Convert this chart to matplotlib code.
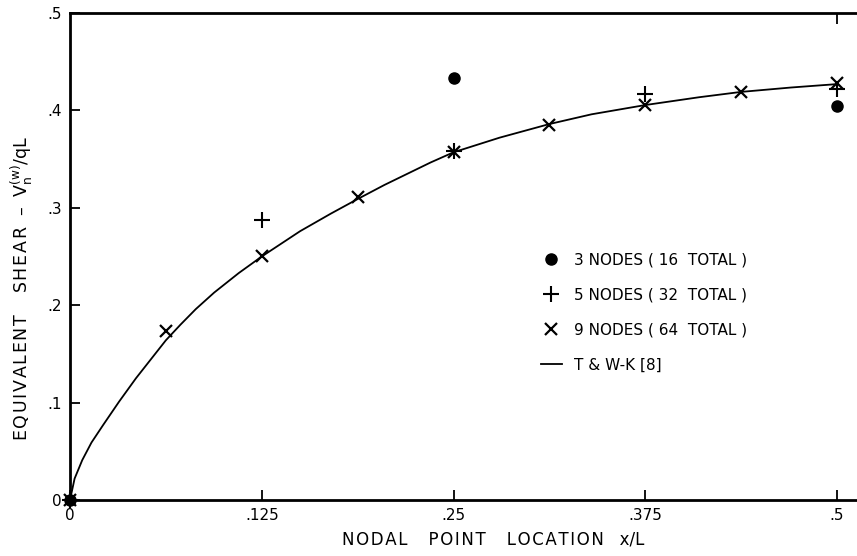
import matplotlib
matplotlib.use("Agg")
from matplotlib import pyplot as plt

# 3 nodes (16 total)
x3 = [0, 0.25, 0.5]
y3 = [0, 0.433, 0.405]
# 5 nodes (32 total)
x5 = [0, 0.125, 0.25, 0.375, 0.5]
y5 = [0, 0.2875, 0.358, 0.417, 0.422]
# 9 nodes (64 total)
x9 = [0, 0.0625, 0.125, 0.1875, 0.25, 0.3125, 0.375, 0.4375, 0.5]
y9 = [0, 0.1735, 0.2505, 0.311, 0.357, 0.385, 0.4055, 0.419, 0.428]
# T & W-K [8] curve
xc = [0, 0.003, 0.008, 0.014, 0.0216, 0.032, 0.043, 0.053, 0.0625, 0.072,
      0.082, 0.094, 0.11, 0.125, 0.15, 0.17, 0.1875, 0.205, 0.22, 0.235,
      0.25, 0.28, 0.3125, 0.34, 0.375, 0.41, 0.4375, 0.47, 0.5]
yc = [0, 0.022, 0.041, 0.059, 0.077, 0.101, 0.125, 0.145, 0.164, 0.180,
      0.196, 0.213, 0.233, 0.250, 0.276, 0.294, 0.309, 0.3235, 0.335, 0.3465,
      0.357, 0.372, 0.386, 0.396, 0.4055, 0.4135, 0.419, 0.4235, 0.427]

xticks = [0, 0.125, 0.25, 0.375, 0.5]
xlabels = ["0", ".125", ".25", ".375", ".5"]
yticks = [0, 0.1, 0.2, 0.3, 0.4, 0.5]
ylabels = ["0", ".1", ".2", ".3", ".4", ".5"]


def spaced(s):
    # wide lettering like the original
    return "\u200a".join(s)


plt.rcParams['font.family'] = ['DejaVu Sans']
fig = plt.figure(figsize=(8.57, 5.56), dpi=100)
ax = fig.add_axes([70/857, 56/556, 1 - 70/857, 487/556])

ax.plot(xc, yc, "k-", lw=1.3, label="T & W-K [8]", clip_on=False)
ax.plot(x3, y3, "ko", ms=8, ls="none", label="3 NODES ( 16  TOTAL )", clip_on=False)
ax.plot(x5, y5, "k+", ms=11, mew=1.5, ls="none", label="5 NODES ( 32  TOTAL )", clip_on=False)
ax.plot(x9, y9, "kx", ms=8.5, mew=1.6, ls="none", label="9 NODES ( 64  TOTAL )", clip_on=False)

ax.set_xlim(0, 0.513)
ax.set_ylim(0, 0.5)
ax.set_xticks(xticks)
ax.set_xticklabels(xlabels)
ax.set_yticks(yticks)
ax.set_yticklabels(ylabels)
ax.tick_params(direction="in", length=7, width=1.3, labelsize=11, pad=6)
ax.spines["right"].set_visible(False)
for s in ["left", "bottom", "top"]:
    ax.spines[s].set_linewidth(2)

top = ax.secondary_xaxis("top")
top.set_xticks([0.5])
top.set_xticklabels([])
top.tick_params(direction="in", length=8, width=1.3)
top.spines["top"].set_visible(False)

fig.text(493/857, 1 - 548/556,
         spaced("NODAL") + "    " + spaced("POINT") + "    " + spaced("LOCATION") + "   x/L",
         ha="center", va="bottom", fontsize=12)
fig.text(22/857, 1 - 288/556,
         spaced("EQUIVALENT") + "    " + spaced("SHEAR") + "  \u2013  "
         + r"$\mathregular{V_n^{(w)}}$/qL",
         ha="center", va="center", rotation=90, fontsize=12.5)

h, l = ax.get_legend_handles_labels()
order = [1, 2, 3, 0]
ax.legend([h[i] for i in order], [l[i] for i in order],
          loc="upper left", bbox_to_anchor=(527/857, 1 - 239/556),
          bbox_transform=fig.transFigure, frameon=False, fontsize=11,
          handlelength=1.4, handletextpad=0.8, labelspacing=1.3)

fig.savefig("out.png", dpi=100)
